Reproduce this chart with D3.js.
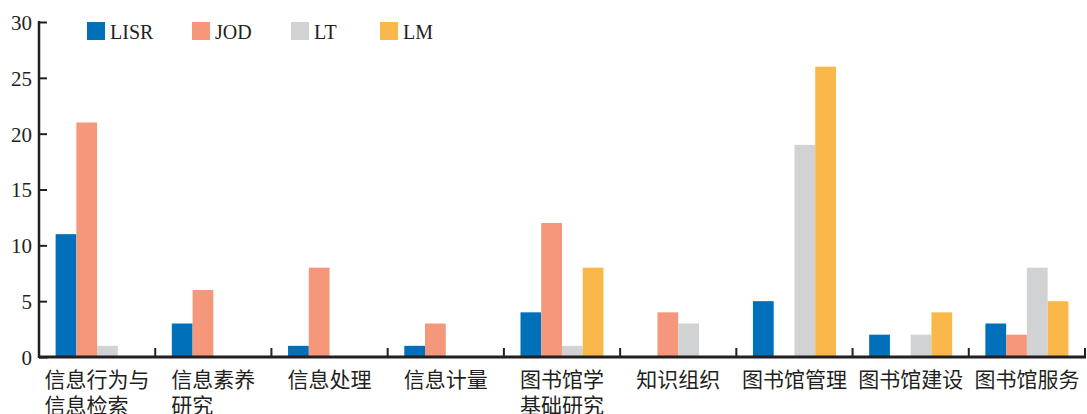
<!DOCTYPE html>
<html>
<head>
<meta charset="utf-8">
<script src="https://cdn.jsdelivr.net/npm/d3@7"></script>
<style>
  body { margin: 0; background: #fff; }
  svg { display: block; }
</style>
</head>
<body>
<script>
var categories = ["信息行为与\n信息检索", "信息素养\n研究", "信息处理", "信息计量", "图书馆学\n基础研究",
                  "知识组织", "图书馆管理", "图书馆建设", "图书馆服务"];
var seriesNames = ["LISR", "JOD", "LT", "LM"];
var LISR = [11, 3, 1, 1, 4, 0, 5, 2, 3];
var JOD  = [21, 6, 8, 3, 12, 4, 0, 0, 2];
var LT   = [1, 0, 0, 0, 1, 3, 19, 2, 8];
var LM   = [0, 0, 0, 0, 8, 0, 26, 4, 5];
var yTicks = [0, 5, 10, 15, 20, 25, 30];
var colors = ["#0070ba", "#f5977a", "#d1d2d4", "#fbb84a"];

var seriesValues = [LISR, JOD, LT, LM];
var width = 1087, height = 414;
var margin = {top: 22, right: 2, bottom: 57, left: 39};
var ink = "#231f20";

var svg = d3.select("body").append("svg")
    .attr("width", width)
    .attr("height", height);

var x = d3.scaleBand()
    .domain(d3.range(categories.length))
    .range([margin.left, width - margin.right]);

var xInner = d3.scaleBand()
    .domain(seriesNames)
    .range([0, x.bandwidth()])
    .paddingOuter(0.8);

var y = d3.scaleLinear()
    .domain([0, 30])
    .range([height - margin.bottom, margin.top]);

// bars
var groups = svg.selectAll("g.grp")
    .data(categories)
    .enter().append("g")
    .attr("class", "grp")
    .attr("transform", function(d, i) { return "translate(" + x(i) + ",0)"; });

groups.selectAll("rect")
    .data(function(d, i) {
      return seriesNames.map(function(s, j) { return {s: s, j: j, v: seriesValues[j][i]}; });
    })
    .enter().append("rect")
    .attr("x", function(d) { return xInner(d.s); })
    .attr("width", xInner.bandwidth())
    .attr("y", function(d) { return y(d.v); })
    .attr("height", function(d) { return y(0) - y(d.v); })
    .style("fill", function(d) { return colors[d.j]; });

// y axis
var yAxis = d3.axisRight(y).tickValues(yTicks).tickSize(8).tickFormat(d3.format("d"));
var yg = svg.append("g")
    .attr("transform", "translate(" + margin.left + ",0)")
    .call(yAxis);
yg.select(".domain").remove();
yg.selectAll(".tick line").attr("stroke", ink).attr("stroke-width", 2);
yg.selectAll(".tick text")
    .attr("x", -7)
    .attr("text-anchor", "end")
    .attr("dy", "0.35em")
    .style("font-family", "'Liberation Serif', 'Times New Roman', serif")
    .style("font-size", "21px")
    .style("fill", ink);
svg.append("line")
    .attr("x1", margin.left).attr("x2", margin.left)
    .attr("y1", y(30) - 1).attr("y2", y(0) + 1)
    .attr("stroke", ink).attr("stroke-width", 2.5);

// x axis
svg.append("line")
    .attr("x1", margin.left).attr("x2", width - margin.right + 1)
    .attr("y1", y(0)).attr("y2", y(0))
    .attr("stroke", ink).attr("stroke-width", 3);

svg.selectAll("line.xtick")
    .data(d3.range(1, categories.length + 1))
    .enter().append("line")
    .attr("class", "xtick")
    .attr("x1", function(i) { return x(0) + i * x.step(); })
    .attr("x2", function(i) { return x(0) + i * x.step(); })
    .attr("y1", y(0)).attr("y2", y(0) - 9)
    .attr("stroke", ink).attr("stroke-width", 2);

var fontPx = 21;
var labels = svg.selectAll("text.xl")
    .data(categories)
    .enter().append("text")
    .attr("class", "xl")
    .style("font-family", "'Noto Sans CJK SC', sans-serif")
    .style("font-size", fontPx + "px")
    .style("fill", ink)
    .attr("transform", function(d, i) {
      var first = d.split("\n")[0];
      var left = x(i) + x.bandwidth() / 2 - first.length * fontPx / 2;
      return "translate(" + left + "," + (y(0) + 30) + ")";
    });

labels.selectAll("tspan")
    .data(function(d) { return d.split("\n"); })
    .enter().append("tspan")
    .attr("x", 0)
    .attr("dy", function(d, k) { return k === 0 ? 0 : 26; })
    .text(function(d) { return d; });

// legend
var legendX = [87, 192, 291, 380];
var legend = svg.selectAll("g.leg")
    .data(seriesNames)
    .enter().append("g")
    .attr("class", "leg")
    .attr("transform", function(d, i) { return "translate(" + legendX[i] + ",22)"; });

legend.append("rect")
    .attr("width", 18).attr("height", 18)
    .style("fill", function(d, i) { return colors[i]; });

legend.append("text")
    .attr("x", 23)
    .attr("y", 17)
    .style("font-family", "'Liberation Serif', 'Times New Roman', serif")
    .style("font-size", "20px")
    .style("fill", ink)
    .text(function(d) { return d; });
</script>
</body>
</html>
